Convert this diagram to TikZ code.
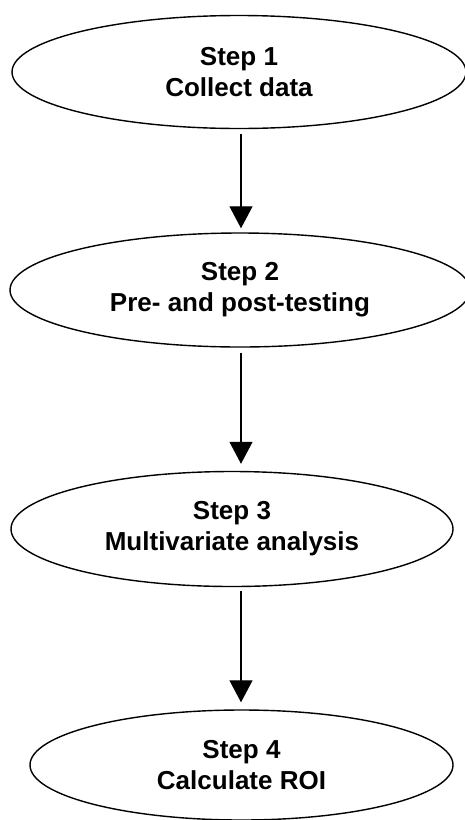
\documentclass[tikz,border=0pt]{standalone}
\usepackage{fontspec}
\setmainfont{Liberation Sans}
\usetikzlibrary{shapes.geometric,arrows.meta}
\begin{document}
\begin{tikzpicture}[x=1pt,y=-1pt,
  stepnode/.style={ellipse,draw=black,line width=1.4pt,inner sep=0pt,
    align=center,font=\bfseries\fontsize{26}{31}\selectfont},
  flow/.style={line width=1.2pt,-{Triangle[length=22pt,width=23pt]}}]
\useasboundingbox (0,0) rectangle (465,820);
\node[stepnode,minimum width=454pt,minimum height=113pt] (s1) at (239,72)
  {Step 1\\Collect data};
\node[stepnode,minimum width=460pt,minimum height=114pt] (s2) at (240,290)
  {Step 2\\Pre- and post-testing};
\node[stepnode,minimum width=442pt,minimum height=115pt] (s3) at (232,529)
  {Step 3\\Multivariate analysis};
\node[stepnode,minimum width=423pt,minimum height=110pt] (s4) at (241.5,765)
  {Step 4\\Calculate ROI};
\coordinate (col) at (241,0);
\draw[flow,shorten <=5pt,shorten >=4pt] (s1.south -| col) -- (s2.north -| col);
\draw[flow,shorten <=5pt,shorten >=7pt] (s2.south -| col) -- (s3.north -| col);
\draw[flow,shorten <=4pt,shorten >=7pt] (s3.south -| col) -- (s4.north -| col);
\end{tikzpicture}
\end{document}
